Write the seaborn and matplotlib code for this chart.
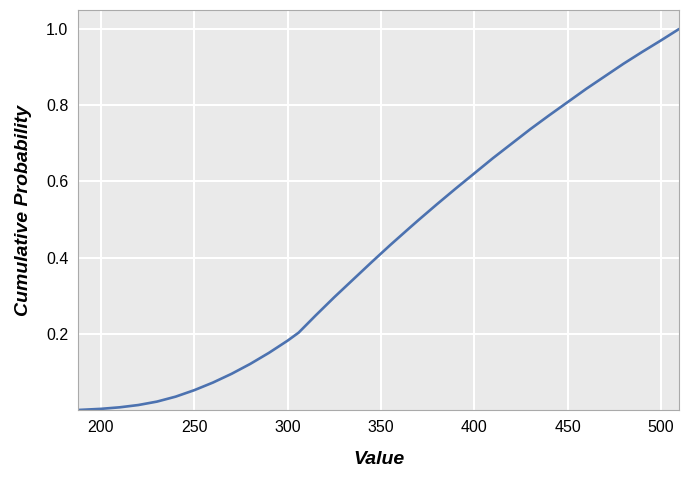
import pandas as pd
import seaborn as sns
import matplotlib.pyplot as plt

# values
value = [187.7, 200, 210, 220, 230, 240, 250, 260, 270, 280, 290, 300, 305.9,
         315, 325, 335, 345, 355, 365, 370, 380, 390, 400, 410, 420, 430,
         440, 450, 460, 470, 480, 490, 500, 509.7]
cum_prob = [0.0, 0.003, 0.007, 0.013, 0.022, 0.035, 0.052, 0.072, 0.095,
            0.121, 0.150, 0.182, 0.203, 0.248, 0.296, 0.342, 0.388, 0.433,
            0.4765, 0.498, 0.540, 0.581, 0.621, 0.661, 0.699, 0.737, 0.773,
            0.808, 0.843, 0.876, 0.909, 0.940, 0.970, 1.0]

x_ticks = [200, 250, 300, 350, 400, 450, 500]
y_ticks = [0.2, 0.4, 0.6, 0.8, 1.0]

df = pd.DataFrame({"Value": value, "Cumulative Probability": cum_prob})

sns.set_style("darkgrid", {
    "axes.facecolor": "#eaeaea",
    "axes.edgecolor": "#aaaaaa",
    "grid.color": "white",
    "axes.linewidth": 1.0,
})
plt.rcParams["font.family"] = ["Liberation Sans", "DejaVu Sans"]

fig, ax = plt.subplots(figsize=(6.89, 4.82), dpi=100)
fig.subplots_adjust(left=0.1132, right=0.9855, top=0.9793, bottom=0.1494)

sns.lineplot(data=df, x="Value", y="Cumulative Probability", color="#4c72b0",
             linewidth=1.9, ax=ax)

ax.set_xlim(187.7, 509.7)
ax.set_ylim(0, 1.05)
ax.set_xticks(x_ticks)
ax.set_yticks(y_ticks)
ax.grid(True, color="white", linewidth=1.5)
ax.tick_params(direction="in", color="white", length=6, width=1.5,
               labelsize=11.5, labelcolor="black", pad=7)

for s in ax.spines.values():
    s.set_visible(True)
    s.set_color("#aaaaaa")

ax.set_xlabel("Value", fontsize=14, fontweight="bold", fontstyle="italic",
              color="black", labelpad=12)
ax.set_ylabel("Cumulative Probability", fontsize=14, fontweight="bold",
              fontstyle="italic", color="black", labelpad=10)

fig.savefig("out.png", dpi=100)
